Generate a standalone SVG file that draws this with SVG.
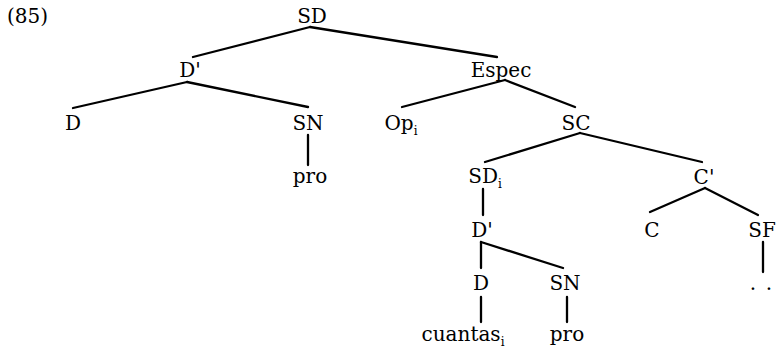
<svg xmlns="http://www.w3.org/2000/svg" width="780" height="350" viewBox="0 0 780 350">
<style>
text{font-family:"DejaVu Serif","Liberation Serif",serif;font-size:20px;fill:#000;text-anchor:middle}
.sub{font-size:12px}
.lbl{text-anchor:start}
#connectors line{stroke:#000;stroke-width:2.3;stroke-linecap:round}
</style>
<rect width="780" height="350" fill="#fff"/>
<g id="label85"><text class="lbl" x="7" y="23">(85)</text></g>
<g id="connectors">
<line x1="310" y1="27" x2="193" y2="57"/>
<line x1="310" y1="27" x2="497" y2="57"/>
<line x1="187" y1="82" x2="73" y2="108"/>
<line x1="187" y1="82" x2="308" y2="107"/>
<line x1="505" y1="80" x2="402" y2="107"/>
<line x1="505" y1="80" x2="575" y2="107"/>
<line x1="308" y1="135" x2="308" y2="165"/>
<line x1="580" y1="133" x2="485" y2="162"/>
<line x1="580" y1="133" x2="702" y2="162"/>
<line x1="483" y1="189" x2="483" y2="215"/>
<line x1="705" y1="188" x2="650" y2="212"/>
<line x1="705" y1="188" x2="758" y2="215"/>
<line x1="481" y1="242" x2="481" y2="268"/>
<line x1="481" y1="242" x2="563" y2="268"/>
<line x1="763" y1="242" x2="763" y2="272"/>
<line x1="481" y1="297" x2="481" y2="322"/>
<line x1="567" y1="297" x2="567" y2="322"/>
</g>
<g id="n-SD"><text x="312" y="23">SD</text></g>
<g id="n-Dbar1"><text x="190" y="77">D'</text></g>
<g id="n-Espec"><text x="501" y="77">Espec</text></g>
<g id="n-D1"><text x="73" y="130">D</text></g>
<g id="n-SN1"><text x="308" y="130">SN</text></g>
<g id="n-Op"><text x="401" y="130">Op<tspan class="sub" dy="5">i</tspan></text></g>
<g id="n-SC"><text x="576" y="130">SC</text></g>
<g id="n-pro1"><text x="310" y="183">pro</text></g>
<g id="n-SDi"><text x="485" y="183">SD<tspan class="sub" dy="5">i</tspan></text></g>
<g id="n-Cbar"><text x="704" y="184">C'</text></g>
<g id="n-Dbar2"><text x="482" y="237">D'</text></g>
<g id="n-C"><text x="652" y="237">C</text></g>
<g id="n-SF"><text x="762" y="237">SF</text></g>
<g id="n-D2"><text x="481" y="290">D</text></g>
<g id="n-SN2"><text x="565" y="290">SN</text></g>
<g id="n-dots"><text x="753" y="290">.</text><text x="769" y="290">.</text></g>
<g id="n-cuantas"><text x="463" y="341">cuantas<tspan class="sub" dy="5">i</tspan></text></g>
<g id="n-pro2"><text x="567" y="341">pro</text></g>
</svg>
